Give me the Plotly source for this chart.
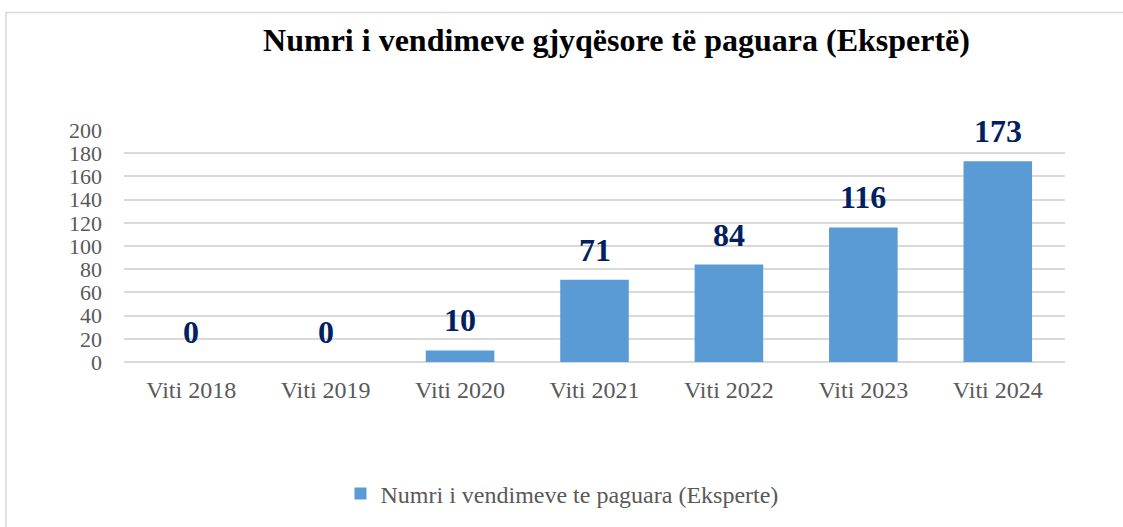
import plotly.graph_objects as go

categories = ["Viti 2018", "Viti 2019", "Viti 2020", "Viti 2021", "Viti 2022", "Viti 2023", "Viti 2024"]
values = [0, 0, 10, 71, 84, 116, 173]
series_name = "Numri i vendimeve te paguara (Eksperte)"
title_text = "Numri i vendimeve gjyqësore të paguara (Ekspertë)"

W, H = 1123, 527
ML, MR, MT, MB = 124, 58, 130, 164
pw = W - ML - MR
ph = H - MT - MB

FONT = "Liberation Serif, Times New Roman, serif"

fig = go.Figure()
fig.add_trace(go.Bar(
    x=categories, y=values, name=series_name,
    marker=dict(color="#5B9BD5", line=dict(width=0)),
    cliponaxis=False, showlegend=True,
))

for c, v in zip(categories, values):
    fig.add_annotation(x=c, y=v, text="<b>%d</b>" % v, showarrow=False,
                       yanchor="bottom", xanchor="center", yshift=10,
                       font=dict(family=FONT, size=32, color="#002060"))

fig.update_layout(
    width=W, height=H,
    margin=dict(l=ML, r=MR, t=MT, b=MB),
    paper_bgcolor="white", plot_bgcolor="white",
    bargap=0.49,
    font=dict(family=FONT, color="#595959", size=24),
    title=dict(text="<b>" + title_text + "</b>", x=0.549, xanchor="center",
               y=1 - 40 / H, yanchor="middle",
               font=dict(family=FONT, size=32, color="black")),
    xaxis=dict(showgrid=False, showline=False, zeroline=False,
               tickfont=dict(size=24, color="#595959"), ticklabelstandoff=11),
    yaxis=dict(range=[0, 200], dtick=20, showgrid=True, gridcolor="#D9D9D9", gridwidth=1.5,
               zeroline=True, zerolinecolor="#D9D9D9", zerolinewidth=1.5, showline=False,
               tickfont=dict(size=22, color="#595959"), ticklabelstandoff=21),
    legend=dict(orientation="h", x=(562 - ML) / pw, xanchor="center",
                y=(MT + ph - 494) / ph, yanchor="middle",
                font=dict(size=24, color="#595959"), itemwidth=30),
    showlegend=True,
)

fig.add_shape(type="rect", xref="paper", yref="paper",
              x0=(6 - ML) / pw, x1=(1140 - ML) / pw,
              y0=(MT + ph - 560) / ph, y1=(MT + ph - 12) / ph,
              line=dict(color="#D9D9D9", width=1.5), fillcolor="rgba(0,0,0,0)", layer="below")

fig.write_html("out.html", config={"displayModeBar": False},
               post_script="document.body.style.margin='0';")
